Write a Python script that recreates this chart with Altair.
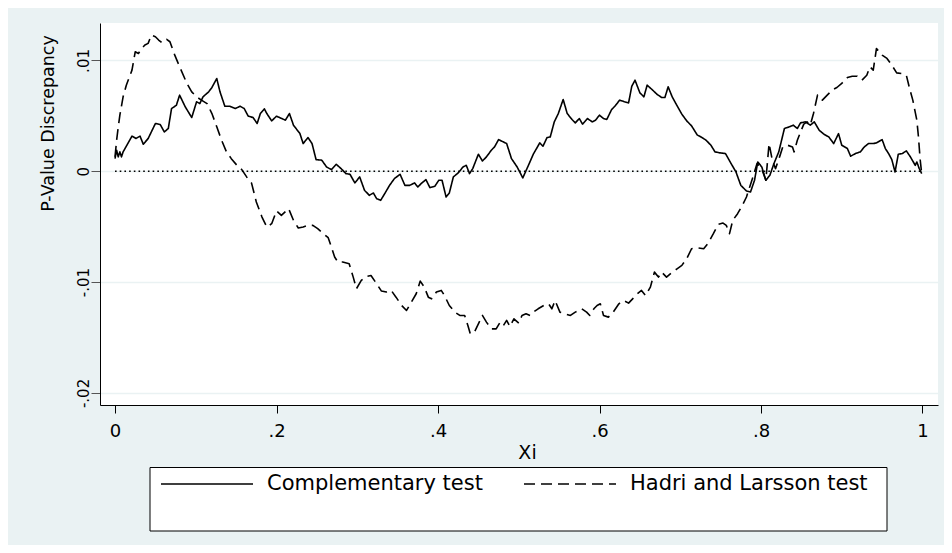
import altair as alt
import pandas as pd

# ---------------- data ----------------
series_names = ["Complementary test", "Hadri and Larsson test"]

comp_x = [0.000, 0.002, 0.004, 0.006, 0.008, 0.010, 0.021, 0.026, 0.031, 0.035,
          0.041, 0.050, 0.056, 0.061, 0.066, 0.070, 0.076, 0.080, 0.087, 0.095,
          0.101, 0.105, 0.109, 0.116, 0.120, 0.126, 0.130, 0.136, 0.142, 0.149,
          0.155, 0.160, 0.165, 0.171, 0.176, 0.180, 0.185, 0.188, 0.194, 0.200,
          0.211, 0.216, 0.221,
          0.229, 0.233, 0.239, 0.244, 0.249, 0.256, 0.262, 0.268, 0.274, 0.280,
          0.286, 0.291, 0.297, 0.303, 0.309, 0.315, 0.320, 0.324, 0.329, 0.334,
          0.340, 0.346, 0.353, 0.359, 0.365, 0.371, 0.375, 0.379, 0.385, 0.390,
          0.396, 0.401, 0.405, 0.410, 0.414, 0.419, 0.425, 0.431, 0.435, 0.439,
          0.443, 0.450, 0.455, 0.460, 0.466, 0.470, 0.475,
          0.485, 0.491, 0.498, 0.505, 0.512, 0.518, 0.526, 0.530, 0.535, 0.539,
          0.544, 0.549, 0.555, 0.560, 0.566, 0.570, 0.575, 0.579, 0.585, 0.591,
          0.595, 0.600, 0.605, 0.609, 0.615, 0.619, 0.625, 0.631, 0.636, 0.640,
          0.644, 0.650, 0.655, 0.659, 0.665, 0.671, 0.677, 0.681, 0.685, 0.690,
          0.695, 0.702, 0.708, 0.714, 0.721, 0.727,
          0.732, 0.738, 0.743, 0.749, 0.756, 0.763, 0.769, 0.775, 0.782, 0.787,
          0.792, 0.796, 0.801, 0.806, 0.811, 0.816, 0.822, 0.829, 0.835, 0.840,
          0.845, 0.849, 0.855, 0.861, 0.866, 0.872, 0.878, 0.884, 0.890, 0.896,
          0.900, 0.907, 0.911, 0.917, 0.923, 0.928, 0.933, 0.939, 0.943, 0.950,
          0.954, 0.958, 0.962, 0.966, 0.970, 0.975, 0.980, 0.985, 0.991, 0.993,
          0.996, 0.999]

# values in thousandths (x 0.001)
comp_y_milli = [1.14, 1.90, 1.30, 1.75, 1.30, 1.75, 3.17, 2.96, 3.17, 2.44,
                2.95, 4.31, 4.22, 3.55, 3.86, 5.66, 5.96, 6.87, 5.81, 4.85,
                6.27, 6.11, 6.72, 7.17, 7.56, 8.37, 7.17, 5.87, 5.87, 5.66,
                5.87, 5.66, 4.97, 4.85, 4.31, 5.21, 5.63, 5.21, 4.55, 4.97,
                4.61, 5.21, 4.16,
                3.40, 2.50, 3.04, 2.50, 1.05, 1.00, 0.39, 0.15, 0.63, 0.24,
                -0.21, -0.27, -1.05, -0.51, -1.72, -2.17, -1.96, -2.47, -2.62, -2.02,
                -1.27, -0.66, -0.27, -1.27, -1.27, -1.05, -1.42, -1.12, -0.75, -1.48,
                -1.36, -0.81, -0.81, -2.32, -1.96, -0.51, -0.15, 0.39, 0.54, -0.21,
                0.24, 1.54, 0.93, 1.30, 1.90, 2.20, 2.86,
                2.50, 1.14, 0.39, -0.60, 0.54, 1.54, 2.56, 2.26, 3.04, 3.10,
                4.46, 5.21, 6.48, 5.21, 4.67, 4.37, 4.76, 4.25, 4.76, 4.46,
                4.61, 5.06, 4.76, 4.67, 5.57, 5.87, 6.42, 6.27, 6.17, 7.68,
                8.22, 7.08, 6.72, 7.77, 7.38, 6.96, 6.66, 6.66, 7.62, 6.72,
                6.05, 5.15, 4.55, 4.10, 3.28, 3.04,
                2.80, 2.35, 1.75, 1.66, 1.60, 0.69, -0.06, -1.27, -1.78, -1.87,
                -0.81, 0.84, 0.39, -0.81, -0.36, 0.69, 1.75, 3.86, 4.01, 4.16,
                3.86, 4.37, 4.46, 4.16, 4.46, 3.71, 3.34, 3.10, 2.50, 3.40,
                2.35, 2.05, 1.36, 1.60, 1.75, 2.20, 2.50, 2.50, 2.56, 2.86,
                2.05, 1.60, 1.05, -0.06, 1.54, 1.60, 1.84, 1.30, 0.54, 0.84,
                0.24, -0.21]

hl_x = [0.000, 0.002, 0.004, 0.006, 0.010, 0.014, 0.021, 0.025, 0.029, 0.033,
        0.037, 0.041, 0.045, 0.050, 0.054, 0.058, 0.064, 0.068, 0.074, 0.080,
        0.089, 0.095, 0.101, 0.107, 0.114, 0.120, 0.126, 0.132, 0.138, 0.144,
        0.151, 0.157, 0.163, 0.169, 0.175, 0.182, 0.188, 0.194, 0.200, 0.206,
        0.215, 0.221, 0.227,
        0.233, 0.239, 0.245, 0.251, 0.258, 0.264, 0.268, 0.272, 0.276, 0.282,
        0.290, 0.295, 0.299, 0.305, 0.311, 0.317, 0.324, 0.330, 0.336, 0.342,
        0.348, 0.355, 0.361, 0.367, 0.373, 0.378, 0.383, 0.388, 0.392, 0.398,
        0.404, 0.408, 0.414, 0.421, 0.427, 0.433, 0.437, 0.440, 0.445, 0.450,
        0.455, 0.460, 0.466, 0.472,
        0.477, 0.481, 0.485, 0.489, 0.494, 0.500, 0.504, 0.509, 0.514, 0.518,
        0.524, 0.531, 0.537, 0.541, 0.545, 0.551, 0.557, 0.564, 0.570, 0.574,
        0.578, 0.584, 0.588, 0.593, 0.597, 0.601, 0.605, 0.611, 0.617, 0.624,
        0.630, 0.636, 0.641, 0.647, 0.652, 0.657, 0.663, 0.668, 0.673, 0.677,
        0.683, 0.690, 0.696, 0.702, 0.708, 0.714, 0.721, 0.729,
        0.734, 0.741, 0.747, 0.753, 0.757, 0.761, 0.765, 0.771, 0.777, 0.782,
        0.786, 0.790, 0.795, 0.800, 0.806, 0.810, 0.814, 0.818, 0.823, 0.827,
        0.833, 0.839, 0.841, 0.845, 0.849, 0.853, 0.857, 0.861, 0.865, 0.870,
        0.876, 0.882, 0.888, 0.894, 0.900, 0.907, 0.913, 0.919, 0.925, 0.931,
        0.935, 0.939, 0.943, 0.950, 0.956, 0.962, 0.968, 0.974, 0.980, 0.984,
        0.988, 0.993, 0.995, 0.997, 0.999]

hl_y_milli = [1.30, 2.80, 4.01, 5.06, 6.72, 7.77, 9.13, 10.78, 10.63, 11.08,
              11.39, 11.54, 12.29, 12.14, 11.84, 11.60, 11.90, 11.69, 10.48, 9.43,
              7.93, 7.17, 6.72, 6.42, 6.11, 5.21, 4.01, 2.80, 1.75, 1.14,
              0.54, 0.15, -0.51, -1.05, -2.77, -4.13, -5.03, -4.73, -3.58, -3.98,
              -3.37, -4.43, -5.12,
              -5.03, -4.88, -4.88, -5.18, -5.63, -5.99, -6.84, -7.74, -8.19, -8.19,
              -8.34, -9.55, -10.60, -9.85, -9.49, -9.40, -10.15, -10.81, -10.90, -10.75,
              -11.36, -12.11, -12.56, -11.81, -11.05, -9.91, -10.45, -11.36, -11.51, -10.90,
              -10.75, -11.21, -12.11, -12.71, -13.01, -13.01, -13.92, -14.67, -14.52, -13.77,
              -13.01, -13.61, -14.22, -14.22,
              -13.61, -13.92, -13.46, -14.01, -13.31, -13.70, -13.01, -12.86, -13.01, -12.71,
              -12.41, -12.11, -11.96, -12.41, -11.66, -12.71, -12.86, -13.01, -12.71, -12.56,
              -12.41, -12.71, -13.01, -12.41, -12.11, -11.96, -13.01, -13.16, -12.71, -11.96,
              -11.66, -11.90, -11.51, -11.05, -10.75, -11.21, -10.45, -9.10, -9.55, -9.10,
              -9.55, -9.10, -8.80, -8.49, -7.89, -6.99, -6.90, -6.99,
              -6.54, -5.63, -4.79, -4.67, -4.88, -5.63, -4.43, -3.83, -3.07, -2.32,
              -1.42, -0.51, 0.69, 0.39, -0.81, 2.50, 0.99, 0.24, 1.30, 2.20,
              2.35, 2.20, 1.75, 2.80, 3.55, 4.25, 4.46, 4.16, 5.21, 6.87,
              6.42, 6.87, 7.32, 7.56, 7.93, 8.46, 8.58, 8.58, 8.22, 8.67,
              9.43, 9.13, 11.08, 10.48, 10.18, 9.58, 8.88, 8.82, 8.67, 7.47,
              6.42, 4.61, 3.10, 1.14, -0.21]

x_ticks = [0, 0.2, 0.4, 0.6, 0.8, 1]
x_tick_labels = ["0", ".2", ".4", ".6", ".8", "1"]
y_ticks = [-0.02, -0.01, 0, 0.01]
y_tick_labels = ["-.02", "-.01", "0", ".01"]
ref_line_x = [0, 1]
ref_line_y = 0

# ---------------- styling ----------------
BG = "#EAF2F3"
FONT = "DejaVu Sans"
X_DOMAIN = [-0.0186, 1.0192]
Y_DOMAIN = [-0.02109, 0.01338]
W, H = 838, 382

rows = []
for name, xs, ys in [(series_names[0], comp_x, comp_y_milli),
                     (series_names[1], hl_x, hl_y_milli)]:
    for i, (xv, yv) in enumerate(zip(xs, ys)):
        rows.append({"series": name, "xi": xv, "disc": yv / 1000.0, "order": i})
df = pd.DataFrame(rows)

ref_df = pd.DataFrame({"xi": [ref_line_x[0]], "xi2": [ref_line_x[1]], "disc": [ref_line_y]})
box_df = pd.DataFrame({"box": [0]})


def label_expr(values, labels):
    parts = [f"abs(datum.value - ({v})) < 1e-9 ? '{l}'" for v, l in zip(values, labels)]
    return " : ".join(parts) + " : ''"


x_axis = alt.Axis(
    values=x_ticks, labelExpr=label_expr(x_ticks, x_tick_labels), title="Xi",
    grid=False, domainColor="black", domainWidth=1, tickColor="black", tickWidth=1,
    tickSize=8, labelFont=FONT, labelFontSize=18, labelColor="black",
    labelPadding=23, labelBaseline="alphabetic", labelFlush=False, labelOverlap=False,
    titleFont=FONT, titleFontSize=19, titleFontWeight="normal", titleColor="black",
    titleX=427, titleY=53, titleAlign="center", titleBaseline="alphabetic",
)
y_axis = alt.Axis(
    values=y_ticks, labelExpr=label_expr(y_ticks, y_tick_labels),
    title="P-Value Discrepancy", grid=True, gridColor=BG, gridWidth=1.6,
    domainColor="black", domainWidth=1, tickColor="#555555", tickWidth=1, tickSize=9,
    labelFont=FONT, labelFontSize=15, labelColor="black", labelAngle=270,
    labelAlign="center", labelBaseline="alphabetic", labelPadding=3,
    labelFlush=False, labelOverlap=False,
    titleFont=FONT, titleFontSize=17.5, titleFontWeight="normal", titleColor="black",
    titleAngle=270, titleX=-47, titleY=100, titleAlign="center",
    titleBaseline="alphabetic",
)

x_enc = alt.X("xi:Q", scale=alt.Scale(domain=X_DOMAIN, nice=False, zero=False), axis=x_axis)
y_enc = alt.Y("disc:Q", scale=alt.Scale(domain=Y_DOMAIN, nice=False, zero=False), axis=y_axis)

legend_box = alt.Chart(box_df).mark_rect(
    fill="white", stroke="black", strokeWidth=1
).encode(
    x=alt.value(50), x2=alt.value(787), y=alt.value(444.5), y2=alt.value(508)
)

ref_line = alt.Chart(ref_df).mark_rule(
    color="black", strokeWidth=1.4, strokeDash=[1.6, 3.1]
).encode(x=x_enc, x2="xi2:Q", y=y_enc)

lines = alt.Chart(df).mark_line(
    color="black", strokeWidth=1.6, strokeCap="butt", strokeJoin="round"
).encode(
    x=x_enc,
    y=y_enc,
    order="order:Q",
    strokeDash=alt.StrokeDash(
        "series:N",
        scale=alt.Scale(domain=series_names, range=[[1, 0], [11, 6]]),
        legend=alt.Legend(
            title=None, orient="none", legendX=60, legendY=414,
            direction="horizontal", symbolType="stroke", symbolSize=8464,
            symbolStrokeWidth=1.6, symbolStrokeColor="black",
            labelFont=FONT, labelFontSize=21, labelColor="black",
            labelOffset=13, columnPadding=37, padding=0, labelLimit=400,
        ),
    ),
)

chart = alt.layer(legend_box, ref_line, lines).properties(
    width=W, height=H,
    autosize=alt.AutoSizeParams(type="none"),
    padding={"left": 92, "top": 15, "right": 6, "bottom": 140},
    background=BG,
).configure_view(stroke=None, fill="white")

chart.save("out.html", embed_options={"renderer": "svg", "actions": False})
